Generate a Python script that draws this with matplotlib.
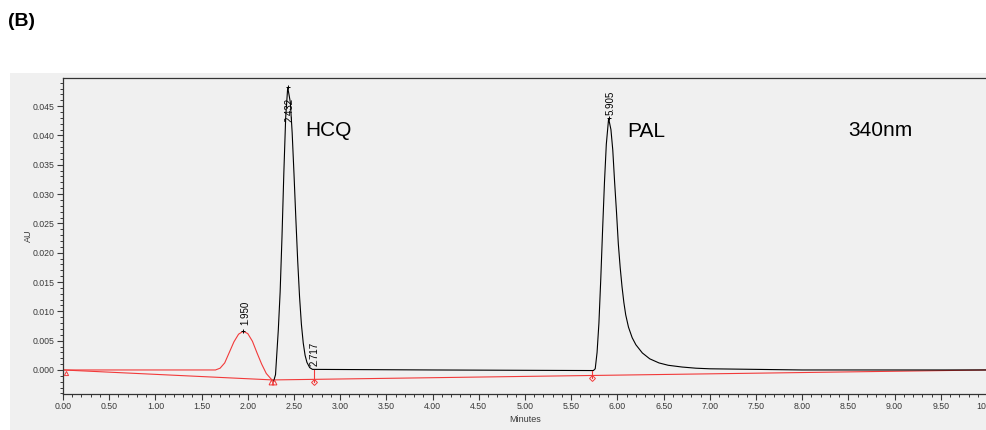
import matplotlib
matplotlib.use('Agg')
import matplotlib.pyplot as plt
from matplotlib.patches import Rectangle
from matplotlib.ticker import MultipleLocator, FormatStrFormatter

plt.rcParams['font.family'] = ['Liberation Sans', 'DejaVu Sans']

# red part of the trace (integrated impurity peak at 1.950 min)
red_time = [0.00, 1.00, 1.60, 1.65, 1.70, 1.75, 1.80, 1.85, 1.90, 1.95,
            2.00, 2.05, 2.10, 2.15, 2.20, 2.25, 2.28]
red_au = [0.0000, 0.0000, 0.0000, 0.0000, 0.0003, 0.0012, 0.0030, 0.0048, 0.0061, 0.0066,
          0.0062, 0.0049, 0.0029, 0.0010, -0.0006, -0.0015, -0.0019]

# black trace: HCQ and PAL peaks
black_time = [2.28, 2.30, 2.33, 2.35, 2.37, 2.39, 2.41, 2.432, 2.46, 2.48,
              2.50, 2.52, 2.54, 2.56, 2.58, 2.60, 2.62, 2.64, 2.67, 2.70,
              4.00, 5.74, 5.76, 5.78, 5.80, 5.82, 5.84, 5.86, 5.88, 5.905,
              5.93, 5.95, 5.97, 5.99, 6.01, 6.03, 6.05, 6.07, 6.09, 6.12,
              6.16, 6.20, 6.27, 6.35, 6.45, 6.55, 6.70, 6.85, 7.00, 7.50,
              8.00, 10.00]
black_au = [-0.0019, -0.0008, 0.0068, 0.0133, 0.0227, 0.0336, 0.0431, 0.0482, 0.0457, 0.0405,
            0.0334, 0.0258, 0.0186, 0.0125, 0.0078, 0.0046, 0.0025, 0.0013, 0.0004, 0.0001,
            0.0000, -0.0001, 0.0002, 0.0030, 0.0080, 0.0155, 0.0240, 0.0320, 0.0385, 0.0429,
            0.0410, 0.0375, 0.0320, 0.0270, 0.0215, 0.0175, 0.0142, 0.0115, 0.0094, 0.0073,
            0.0055, 0.0043, 0.0029, 0.0019, 0.0012, 0.0008, 0.0005, 0.0003, 0.0002, 0.0001,
            0.0000, 0.0000]

# integration baselines
base_time = [0.00, 2.27, 10.00]
base_au = [0.0000, -0.0017, 0.0000]

# retention time labels
peak_rt = [1.950, 2.432, 5.905]
peak_au = [0.0066, 0.0482, 0.0429]
label_au = [0.0077, 0.0423, 0.0435]

# peak end markers
end_rt = [2.717, 5.72]
end_au = [-0.0020, -0.0014]
end_top = [0.0000, -0.0001]
valley_rt = [2.255, 2.28]
valley_au = [-0.0021, -0.0021]

red = '#f23a3a'
panel = '#f0f0f0'
tick_grey = '#3a3a3a'

fig = plt.figure(figsize=(9.87, 4.3), dpi=100)
fig.patches.append(Rectangle((10 / 987, 0), 977 / 987, 357 / 430,
                             transform=fig.transFigure, facecolor=panel,
                             edgecolor='none', zorder=-10))
ax = fig.add_axes([63 / 987, 1 - 394 / 430, 924 / 987, 316 / 430])
ax.set_zorder(1)
ax.set_facecolor(panel)

ax.plot(base_time, base_au, color=red, lw=0.8)
ax.plot(red_time, red_au, color=red, lw=0.8)
ax.plot(black_time, black_au, color='black', lw=0.8)

for t, y, top in zip(end_rt, end_au, end_top):
    ax.plot([t, t], [y, top], color=red, lw=0.8)
ax.plot(end_rt, end_au, ls='none', marker='D', ms=3, mfc='none', mec=red, mew=0.7)
ax.plot(valley_rt, valley_au, ls='none', marker='^', ms=3.5, mfc='none', mec=red, mew=0.7)
ax.plot([0.03], [-0.0005], ls='none', marker='^', ms=3, mfc='none', mec=red, mew=0.7)

ax.plot(peak_rt, peak_au, ls='none', marker='+', ms=3.5, color='black', mew=0.7)

for t, y in zip(peak_rt, label_au):
    ax.text(t + 0.02, y, f'{t:.3f}', rotation=90, ha='center', va='bottom',
            fontsize=7, color='black')
ax.text(end_rt[0] + 0.01, 0.0007, f'{end_rt[0]:.3f}', rotation=90, ha='center',
        va='bottom', fontsize=7, color='black')

ax.text(2.62, 0.0408, 'HCQ', fontsize=15, va='center', ha='left')
ax.text(6.11, 0.0406, 'PAL', fontsize=15, va='center', ha='left')
ax.text(8.50, 0.0408, '340nm', fontsize=15, va='center', ha='left')

ax.set_xlim(0, 10)
ax.set_ylim(-0.0041, 0.0498)
ax.xaxis.set_major_locator(MultipleLocator(0.5))
ax.xaxis.set_minor_locator(MultipleLocator(0.1))
ax.yaxis.set_major_locator(MultipleLocator(0.005))
ax.yaxis.set_minor_locator(MultipleLocator(0.001))
ax.xaxis.set_major_formatter(FormatStrFormatter('%.2f'))
ax.yaxis.set_major_formatter(FormatStrFormatter('%.3f'))
ax.tick_params(which='major', length=4, width=0.8, labelsize=6.3, colors=tick_grey, pad=2)
ax.tick_params(which='minor', length=2.5, width=0.7, colors=tick_grey)
for side in ['left', 'bottom', 'top']:
    ax.spines[side].set_color('#333333')
    ax.spines[side].set_linewidth(0.9)
ax.spines['right'].set_color('#c8c8c8')

ax.set_xlabel('Minutes', fontsize=6.5, color=tick_grey, labelpad=3)
ax.set_ylabel('AU', fontsize=6.5, color=tick_grey)
ax.yaxis.set_label_coords(-0.0325, 0.5)

fig.text(8 / 987, 1 - 22 / 430, '(B)', fontsize=14, fontweight='bold', va='center')

fig.savefig('out.png', dpi=100)
